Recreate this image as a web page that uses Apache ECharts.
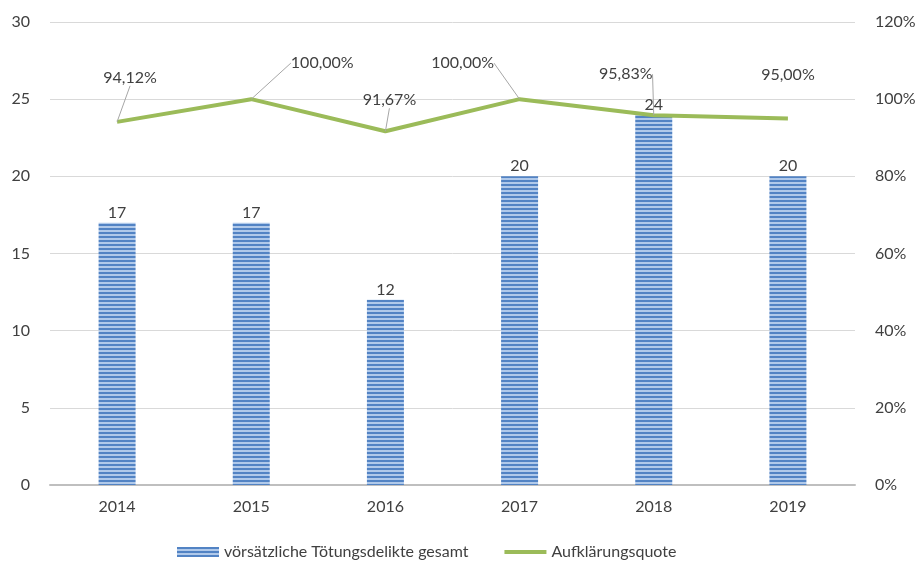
<!DOCTYPE html>
<html><head><meta charset="utf-8">
<script src="https://cdn.jsdelivr.net/npm/echarts@6/dist/echarts.min.js"></script>
<style>html,body{margin:0;padding:0;background:#fff}#c{width:922px;height:570px}</style>
</head><body><div id="c"></div>
<script>
const categories = ['2014','2015','2016','2017','2018','2019'];
const delikte = [17, 17, 12, 20, 24, 20];
const quote = [94.12, 100.00, 91.67, 100.00, 95.83, 95.00];
const leftTicks = [0, 5, 10, 15, 20, 25, 30];
const rightTicks = [0, 20, 40, 60, 80, 100, 120];

const labelOffsets = [[13,-31],[71,-23],[4,-18],[-57,-23],[-28,-28],[0,-31]];

function stripes(){
  const c = document.createElement('canvas');
  c.width = 4; c.height = 4;
  const g = c.getContext('2d');
  g.fillStyle = '#5283C4'; g.fillRect(0,0,4,2);
  g.fillStyle = '#B0C9EA'; g.fillRect(0,2,4,2);
  return c;
}
const pattern = {image: stripes(), repeat: 'repeat'};
const font = 'Lato, "Open Sans", sans-serif';
const chart = echarts.init(document.getElementById('c'), null, {renderer:'canvas'});
chart.setOption({
  animation: false,
  textStyle: {fontFamily: font},
  grid: {left: 50, right: 67, top: 22, bottom: 85},
  legend: {
    bottom: 5, left: 172, itemGap: 36, itemWidth: 42, itemHeight: 10,
    textStyle: {fontSize: 16, color: '#404040', fontFamily: font},
    data: [{name:'vörsätzliche Tötungsdelikte gesamt', icon:'rect'},
           {name:'Aufklärungsquote', icon:'path://M0,0 L42,0 L42,4 L0,4 Z', itemStyle:{color:'#9BBB59'}}]
  },
  xAxis: {
    type: 'category', data: categories,
    axisLine: {lineStyle: {color: '#BFBFBF', width: 2}},
    axisTick: {show: false},
    axisLabel: {fontSize: 16, color: '#404040', margin: 14}
  },
  yAxis: [
    {type:'value', min: 0, max: 30, interval: 5,
     axisLabel: {fontSize: 16, color: '#404040', margin: 20},
     splitLine: {lineStyle: {color: '#D9D9D9'}},
     axisLine: {show:false}, axisTick:{show:false}},
    {type:'value', min: 0, max: 120, interval: 20,
     axisLabel: {fontSize: 16, color: '#404040', margin: 20, formatter: '{value}%'},
     splitLine: {show:false}, axisLine:{show:false}, axisTick:{show:false}}
  ],
  series: [
    {name:'vörsätzliche Tötungsdelikte gesamt', type:'bar', data: delikte, barWidth: 37,
     itemStyle: {color: pattern},
     label: {show:true, position:'top', distance: 2, fontSize: 16, color:'#404040'}},
    {name:'Aufklärungsquote', type:'line', yAxisIndex: 1, symbol:'circle', symbolSize: 0.1, showSymbol: true, z: 3,
     data: quote.map((v,i)=>({value:v, labelLine:{show: i!==5}})),
     lineStyle: {color:'#9BBB59', width: 4}, itemStyle:{color:'#9BBB59'},
     label: {show:true, position:'top', distance: 5, fontSize: 16, color:'#404040',
       formatter: p => p.value.toFixed(2).replace('.', ',') + '%'},
     labelLine: {show:true, lineStyle:{color:'#A6A6A6', width:1}},
     labelLayout: p => ({dx: labelOffsets[p.dataIndex][0], dy: labelOffsets[p.dataIndex][1]})}
  ]
});
</script></body></html>
